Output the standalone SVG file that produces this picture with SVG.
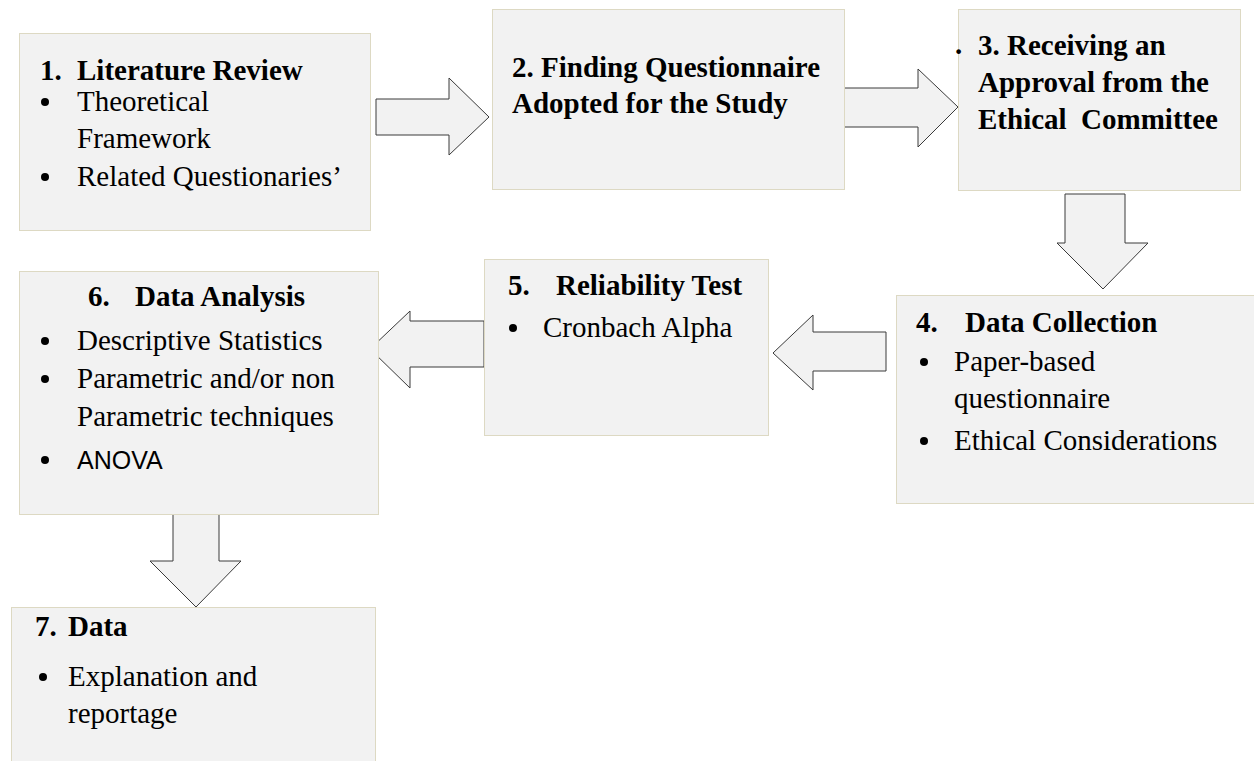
<svg xmlns="http://www.w3.org/2000/svg" width="1254" height="761" viewBox="0 0 1254 761">
  <style>
    .box { fill: #f2f2f2; stroke: #ddd9c3; stroke-width: 1; }
    .arrow { fill: #f2f2f2; stroke: #3a3a3a; stroke-width: 1; stroke-linejoin: miter; }
    .dot { fill: #000; }
    text { font-family: "Liberation Serif", "Times New Roman", serif; font-size: 29px; fill: #000; }
    .h { font-weight: bold; }
    .sans { font-family: "Liberation Sans", Arial, sans-serif; font-size: 25px; }
  </style>
  <rect width="1254" height="761" fill="#ffffff"/>

  <!-- block arrows between the steps -->
  <g id="connectors">
    <polygon class="arrow" points="376,99 449,99 449,78 489,117 449,155 449,135 376,135"/>
    <polygon class="arrow" points="844,88 918,88 918,69 958,107 918,147 918,127 844,127"/>
    <polygon class="arrow" points="1065,194 1125,194 1125,243 1148,243 1103,289 1057,243 1065,243"/>
    <polygon class="arrow" points="886,332 813,332 813,315 773,353 813,390 813,371 886,371"/>
    <polygon class="arrow" points="484,321 410,321 410,311 370,349 410,388 410,367 484,367"/>
    <polygon class="arrow" points="173,512 219,512 219,561 241,561 196,607 150,561 173,561"/>
  </g>

  <g id="step1">
    <rect class="box" x="19.5" y="33.5" width="351" height="197"/>
    <text class="h" x="40" y="80">1.</text>
    <text class="h" x="77" y="80">Literature Review</text>
    <circle class="dot" cx="45" cy="102" r="4"/>
    <text x="77" y="111">Theoretical</text>
    <text x="77" y="148">Framework</text>
    <circle class="dot" cx="45" cy="177" r="4"/>
    <text x="77" y="186">Related Questionaries’</text>
  </g>

  <g id="step2">
    <rect class="box" x="492.5" y="9.5" width="352" height="180"/>
    <text class="h" x="512" y="77">2. Finding Questionnaire</text>
    <text class="h" x="512" y="113">Adopted for the Study</text>
  </g>

  <g id="step3">
    <rect class="box" x="958.5" y="9.5" width="282" height="181"/>
    <text class="h" x="955" y="54" font-size="14">.</text>
    <text class="h" x="978" y="55">3. Receiving an</text>
    <text class="h" x="978" y="92">Approval from the</text>
    <text class="h" x="978" y="129" xml:space="preserve">Ethical  Committee</text>
  </g>

  <g id="step4">
    <rect class="box" x="896.5" y="295.5" width="362" height="208"/>
    <text class="h" x="916" y="332">4.</text>
    <text class="h" x="965" y="332">Data Collection</text>
    <circle class="dot" cx="924" cy="362" r="4"/>
    <text x="954" y="371">Paper-based</text>
    <text x="954" y="408">questionnaire</text>
    <circle class="dot" cx="924" cy="441" r="4"/>
    <text x="954" y="450">Ethical Considerations</text>
  </g>

  <g id="step5">
    <rect class="box" x="484.5" y="259.5" width="284" height="176"/>
    <text class="h" x="508" y="295">5.</text>
    <text class="h" x="556" y="295">Reliability Test</text>
    <circle class="dot" cx="513" cy="328" r="4"/>
    <text x="543" y="337">Cronbach Alpha</text>
  </g>

  <g id="step6">
    <rect class="box" x="19.5" y="271.5" width="359" height="243"/>
    <text class="h" x="88" y="306">6.</text>
    <text class="h" x="135" y="306">Data Analysis</text>
    <circle class="dot" cx="45" cy="341" r="4"/>
    <text x="77" y="350">Descriptive Statistics</text>
    <circle class="dot" cx="45" cy="379" r="4"/>
    <text x="77" y="388">Parametric and/or non</text>
    <text x="77" y="426">Parametric techniques</text>
    <circle class="dot" cx="45" cy="460" r="4"/>
    <text class="sans" x="77" y="469">ANOVA</text>
  </g>

  <g id="step7">
    <rect class="box" x="11.5" y="607.5" width="364" height="160"/>
    <text class="h" x="35" y="636">7.</text>
    <text class="h" x="68" y="636">Data</text>
    <circle class="dot" cx="43" cy="677" r="4"/>
    <text x="68" y="686">Explanation and</text>
    <text x="68" y="723">reportage</text>
  </g>
</svg>
